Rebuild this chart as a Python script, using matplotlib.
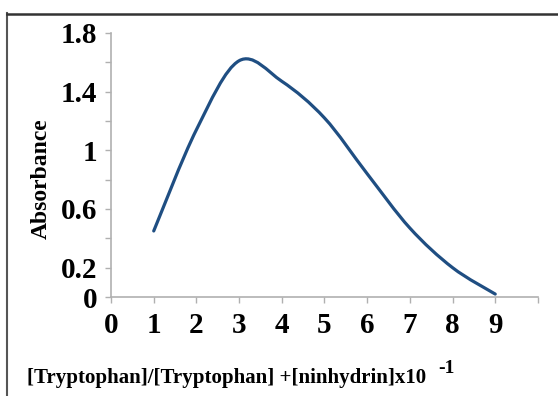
import numpy as np
import matplotlib.pyplot as plt
from matplotlib.path import Path
from matplotlib.patches import PathPatch
from matplotlib.lines import Line2D

ratio = [1, 2, 3, 4, 5, 6, 7, 8, 9]
absorbance = [0.45, 1.14, 1.61, 1.47, 1.22, 0.84, 0.47, 0.20, 0.02]
ytick_vals = [0, 0.2, 0.4, 0.6, 0.8, 1.0, 1.2, 1.4, 1.6, 1.8]
ytick_labels = ['0', '0.2', '', '0.6', '', '1', '', '1.4', '', '1.8']
xtick_vals = list(range(0, 11))
xtick_labels = ['0', '1', '2', '3', '4', '5', '6', '7', '8', '9', '']

plt.rcParams['font.family'] = ['Liberation Serif', 'DejaVu Serif']
plt.rcParams['font.weight'] = 'bold'

fig = plt.figure(figsize=(5.58, 3.96), dpi=100)
ax = fig.add_axes([0.199, 0.25, 0.765, 0.667])

# smoothed line (excel-style bezier through the points)
pts = np.column_stack([ratio, absorbance]).astype(float)
verts = [tuple(pts[0])]
codes = [Path.MOVETO]
n = len(pts)
for i in range(n - 1):
    p0 = pts[i - 1] if i > 0 else pts[i]
    p1 = pts[i]
    p2 = pts[i + 1]
    p3 = pts[i + 2] if i + 2 < n else pts[i + 1]
    c1 = p1 + (p2 - p0) / 6
    c2 = p2 - (p3 - p1) / 6
    verts += [tuple(c1), tuple(c2), tuple(p2)]
    codes += [Path.CURVE4] * 3
ax.add_patch(PathPatch(Path(verts, codes), facecolor='none', edgecolor='#1f4e82',
                       lw=2.3, capstyle='round'))

ax.set_xlim(0, 10)
ax.set_ylim(0, 1.8)
ax.set_xticks(xtick_vals)
ax.set_xticklabels(xtick_labels)
ax.set_yticks(ytick_vals)
ax.set_yticklabels(ytick_labels)
for s in ['top', 'right']:
    ax.spines[s].set_visible(False)
for s in ['left', 'bottom']:
    ax.spines[s].set_color('#b0b0b0')
    ax.spines[s].set_linewidth(1.2)
ax.tick_params(axis='both', colors='#b0b0b0', labelcolor='black', length=4, width=1,
               labelsize=21)
ax.tick_params(axis='x', pad=7)
ax.tick_params(axis='y', pad=6)
for t in ax.get_xticklabels() + ax.get_yticklabels():
    t.set_fontweight('bold')

ax.set_ylabel('Absorbance', fontsize=17, fontweight='bold')
ax.yaxis.set_label_coords(-0.138, 0.447)
fig.text(0.048, 0.033, '[Tryptophan]/[Tryptophan] +[ninhydrin]x10',
         fontsize=15, fontweight='bold')
fig.text(0.785, 0.058, '-1', fontsize=14, fontweight='bold')

# frame lines of the original figure
fig.add_artist(Line2D([0.013, 0.013], [0, 0.967], color='#555555', lw=1.5))
fig.add_artist(Line2D([0.013, 1], [0.965, 0.965], color='#333333', lw=1.8))

fig.savefig('out.png', dpi=100)
